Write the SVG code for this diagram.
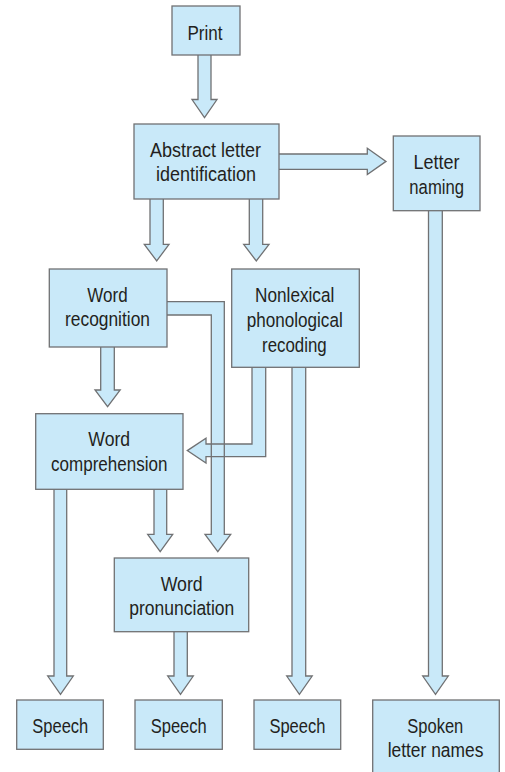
<svg xmlns="http://www.w3.org/2000/svg" xmlns:xlink="http://www.w3.org/1999/xlink" width="505" height="772" viewBox="0 0 505 772">
  <style>
    .box { fill: #c9e9f9; stroke: #707173; stroke-width: 1.3; }
    .afill { fill: #c9e9f9; stroke: none; }
    .aline { fill: none; stroke: #707173; stroke-width: 1.3; stroke-linejoin: miter; }
    text { font-family: "Liberation Sans", Arial, sans-serif; font-size: 20.5px; fill: #231f20; text-anchor: middle; }
  </style>
  <defs>
    <!-- arrow outlines, open at the end that touches the source box -->
    <path id="a-print" d="M198,55 V99.5 H192 L204.5,117.5 L217,99.5 H211 V55"/>
    <path id="a-abs-letter" d="M279,154 H367.3 V148.3 L386,161.4 L367.3,174.5 V169.3 H279"/>
    <path id="a-abs-rec" d="M150,199 V244.3 H144.3 L156.7,261 L169,244.3 H163.3 V199"/>
    <path id="a-abs-nonlex" d="M249.3,199 V244.3 H243.7 L256.3,261 L269,244.3 H262.7 V199"/>
    <path id="a-letter-spoken" d="M428.5,210.7 V676 H422.7 L435.5,694.3 L448.3,676 H442.3 V210.7"/>
    <path id="a-rec-comp" d="M100.7,347 V390 H95 L107.6,406.7 L120.2,390 H114.3 V347"/>
    <path id="a-rec-pron" d="M167,301.7 H224.3 V534.3 H230.7 L217.8,551.7 L205,534.3 H211.3 V315 H167"/>
    <path id="a-nonlex-comp" d="M252,367.3 V444 H206 V438.3 L187.3,450.6 L206,463 V456.7 H265.7 V367.3"/>
    <path id="a-nonlex-speech" d="M292,367.3 V676 H286.7 L299.4,694.3 L312.2,676 H305.7 V367.3"/>
    <path id="a-comp-speech" d="M54,489.3 V676 H47.7 L60.5,694.3 L73.3,676 H66.7 V489.3"/>
    <path id="a-comp-pron" d="M154,489.3 V534.3 H147.7 L160.2,551.7 L172.7,534.3 H166.7 V489.3"/>
    <path id="a-pron-speech" d="M174,631.7 V676 H167.7 L180.5,694.3 L193.3,676 H187.3 V631.7"/>
  </defs>

  <g id="connectors">
    <g class="afill">
      <use xlink:href="#a-print"/>
      <use xlink:href="#a-abs-letter"/>
      <use xlink:href="#a-abs-rec"/>
      <use xlink:href="#a-abs-nonlex"/>
      <use xlink:href="#a-letter-spoken"/>
      <use xlink:href="#a-rec-comp"/>
      <use xlink:href="#a-rec-pron"/>
      <use xlink:href="#a-nonlex-comp"/>
      <use xlink:href="#a-nonlex-speech"/>
      <use xlink:href="#a-comp-speech"/>
      <use xlink:href="#a-comp-pron"/>
      <use xlink:href="#a-pron-speech"/>
    </g>
    <g class="aline">
      <use xlink:href="#a-print"/>
      <use xlink:href="#a-abs-letter"/>
      <use xlink:href="#a-abs-rec"/>
      <use xlink:href="#a-abs-nonlex"/>
      <use xlink:href="#a-letter-spoken"/>
      <use xlink:href="#a-rec-comp"/>
      <use xlink:href="#a-rec-pron"/>
      <use xlink:href="#a-nonlex-comp"/>
      <use xlink:href="#a-nonlex-speech"/>
      <use xlink:href="#a-comp-speech"/>
      <use xlink:href="#a-comp-pron"/>
      <use xlink:href="#a-pron-speech"/>
    </g>
  </g>

  <g id="print">
    <rect class="box" x="172" y="6" width="68" height="49"/>
    <text x="205" y="39.5" textLength="35" lengthAdjust="spacingAndGlyphs">Print</text>
  </g>
  <g id="abstract-letter-identification">
    <rect class="box" x="134" y="124" width="145" height="75"/>
    <text x="205.5" y="156.5" textLength="111" lengthAdjust="spacingAndGlyphs">Abstract letter</text>
    <text x="206" y="180.5" textLength="100" lengthAdjust="spacingAndGlyphs">identification</text>
  </g>
  <g id="letter-naming">
    <rect class="box" x="393.3" y="136" width="86.7" height="74.7"/>
    <text x="436.4" y="169.3" textLength="46" lengthAdjust="spacingAndGlyphs">Letter</text>
    <text x="436.7" y="193.5" textLength="54.7" lengthAdjust="spacingAndGlyphs">naming</text>
  </g>
  <g id="word-recognition">
    <rect class="box" x="49.3" y="269" width="117.7" height="78"/>
    <text x="107.5" y="301.7" textLength="40.3" lengthAdjust="spacingAndGlyphs">Word</text>
    <text x="107.5" y="326" textLength="85" lengthAdjust="spacingAndGlyphs">recognition</text>
  </g>
  <g id="nonlexical-phonological-recoding">
    <rect class="box" x="231.7" y="269" width="127.6" height="98.3"/>
    <text x="294.7" y="301.7" textLength="79.3" lengthAdjust="spacingAndGlyphs">Nonlexical</text>
    <text x="294.7" y="326.5" textLength="96" lengthAdjust="spacingAndGlyphs">phonological</text>
    <text x="294.4" y="351.5" textLength="64.7" lengthAdjust="spacingAndGlyphs">recoding</text>
  </g>
  <g id="word-comprehension">
    <rect class="box" x="35.7" y="413.7" width="147.3" height="75.6"/>
    <text x="109.2" y="445.7" textLength="41.7" lengthAdjust="spacingAndGlyphs">Word</text>
    <text x="109.2" y="470.5" textLength="116.3" lengthAdjust="spacingAndGlyphs">comprehension</text>
  </g>
  <g id="word-pronunciation">
    <rect class="box" x="114.3" y="558" width="134.4" height="73.7"/>
    <text x="181.7" y="591" textLength="42" lengthAdjust="spacingAndGlyphs">Word</text>
    <text x="181.8" y="615" textLength="105" lengthAdjust="spacingAndGlyphs">pronunciation</text>
  </g>
  <g id="speech-1">
    <rect class="box" x="16.7" y="700" width="86.6" height="49.3"/>
    <text x="60.3" y="732.7" textLength="56" lengthAdjust="spacingAndGlyphs">Speech</text>
  </g>
  <g id="speech-2">
    <rect class="box" x="135" y="700" width="87.3" height="49.3"/>
    <text x="178.7" y="732.7" textLength="56" lengthAdjust="spacingAndGlyphs">Speech</text>
  </g>
  <g id="speech-3">
    <rect class="box" x="254" y="700" width="86.7" height="49.3"/>
    <text x="297.4" y="732.7" textLength="56" lengthAdjust="spacingAndGlyphs">Speech</text>
  </g>
  <g id="spoken-letter-names">
    <rect class="box" x="372.7" y="700" width="126.6" height="80"/>
    <text x="435.3" y="732.7" textLength="56" lengthAdjust="spacingAndGlyphs">Spoken</text>
    <text x="435.5" y="757.3" textLength="95.7" lengthAdjust="spacingAndGlyphs">letter names</text>
  </g>
</svg>
